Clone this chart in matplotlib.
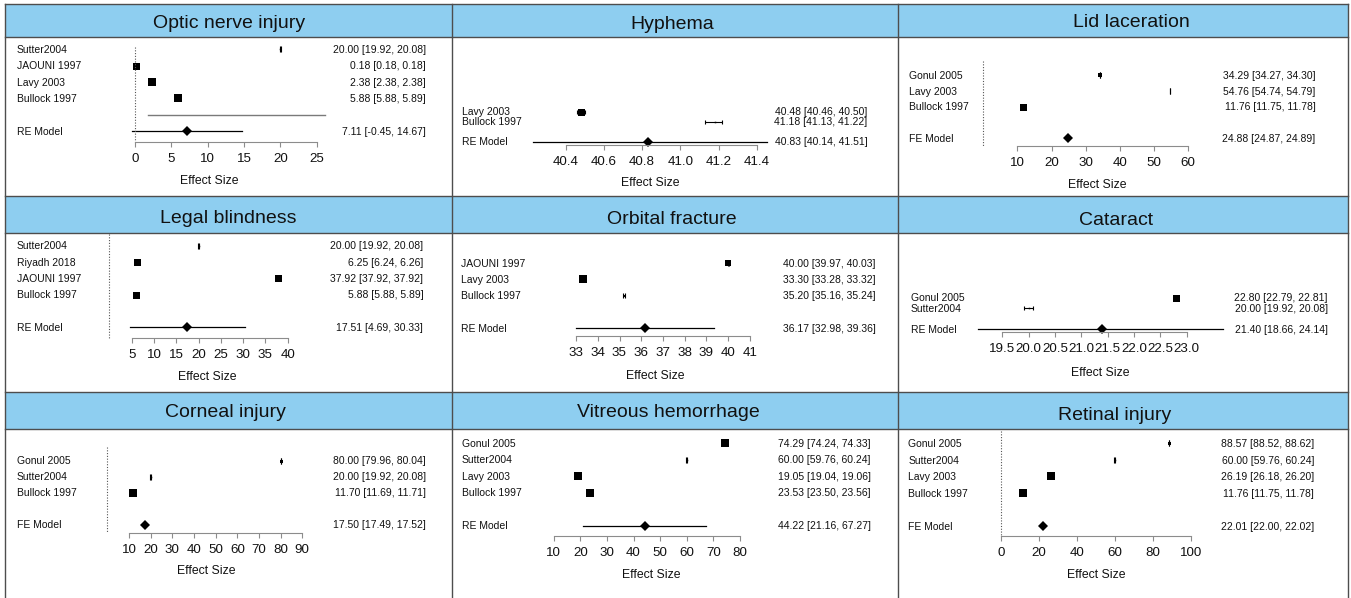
import numpy as np
import matplotlib
matplotlib.use("Agg")
import matplotlib.pyplot as plt
from matplotlib import transforms
from matplotlib.patches import Rectangle
from matplotlib.lines import Line2D

W, H, DPI = 1351, 598, 100
plt.rcParams['font.family'] = ['Liberation Sans', 'DejaVu Sans']

# ------------------------------------------------------------------ data
optic_title = "Optic nerve injury"
optic_labels = ["Sutter2004", "JAOUNI 1997", "Lavy 2003", "Bullock 1997"]
optic_est = [20.00, 0.18, 2.38, 5.88]
optic_lo = [19.92, 0.18, 2.38, 5.88]
optic_hi = [20.08, 0.18, 2.38, 5.89]
optic_model = ["RE Model", 7.11, -0.45, 14.67]
optic_pi = [1.8, 26.1]
optic_ticks = [0, 5, 10, 15, 20, 25]

hyph_title = "Hyphema"
hyph_labels = ["Lavy 2003", "Bullock 1997"]
hyph_est = [40.48, 41.18]
hyph_lo = [40.46, 41.13]
hyph_hi = [40.50, 41.22]
hyph_model = ["RE Model", 40.83, 40.14, 41.51]
hyph_ticks = [40.4, 40.6, 40.8, 41.0, 41.2, 41.4]

lid_title = "Lid laceration"
lid_labels = ["Gonul 2005", "Lavy 2003", "Bullock 1997"]
lid_est = [34.29, 54.76, 11.76]
lid_lo = [34.27, 54.74, 11.75]
lid_hi = [34.30, 54.79, 11.78]
lid_model = ["FE Model", 24.88, 24.87, 24.89]
lid_ticks = [10, 20, 30, 40, 50, 60]

legal_title = "Legal blindness"
legal_labels = ["Sutter2004", "Riyadh 2018", "JAOUNI 1997", "Bullock 1997"]
legal_est = [20.00, 6.25, 37.92, 5.88]
legal_lo = [19.92, 6.24, 37.92, 5.88]
legal_hi = [20.08, 6.26, 37.92, 5.89]
legal_model = ["RE Model", 17.51, 4.69, 30.33]
legal_ticks = [5, 10, 15, 20, 25, 30, 35, 40]

orb_title = "Orbital fracture"
orb_labels = ["JAOUNI 1997", "Lavy 2003", "Bullock 1997"]
orb_est = [40.00, 33.30, 35.20]
orb_lo = [39.97, 33.28, 35.16]
orb_hi = [40.03, 33.32, 35.24]
orb_model = ["RE Model", 36.17, 32.98, 39.36]
orb_ticks = [33, 34, 35, 36, 37, 38, 39, 40, 41]

cat_title = "Cataract"
cat_labels = ["Gonul 2005", "Sutter2004"]
cat_est = [22.80, 20.00]
cat_lo = [22.79, 19.92]
cat_hi = [22.81, 20.08]
cat_model = ["RE Model", 21.40, 18.66, 24.14]
cat_ticks = [19.5, 20.0, 20.5, 21.0, 21.5, 22.0, 22.5, 23.0]

corn_title = "Corneal injury"
corn_labels = ["Gonul 2005", "Sutter2004", "Bullock 1997"]
corn_est = [80.00, 20.00, 11.70]
corn_lo = [79.96, 19.92, 11.69]
corn_hi = [80.04, 20.08, 11.71]
corn_model = ["FE Model", 17.50, 17.49, 17.52]
corn_ticks = [10, 20, 30, 40, 50, 60, 70, 80, 90]

vit_title = "Vitreous hemorrhage"
vit_labels = ["Gonul 2005", "Sutter2004", "Lavy 2003", "Bullock 1997"]
vit_est = [74.29, 60.00, 19.05, 23.53]
vit_lo = [74.24, 59.76, 19.04, 23.50]
vit_hi = [74.33, 60.24, 19.06, 23.56]
vit_model = ["RE Model", 44.22, 21.16, 67.27]
vit_ticks = [10, 20, 30, 40, 50, 60, 70, 80]

ret_title = "Retinal injury"
ret_labels = ["Gonul 2005", "Sutter2004", "Lavy 2003", "Bullock 1997"]
ret_est = [88.57, 60.00, 26.19, 11.76]
ret_lo = [88.52, 59.76, 26.18, 11.75]
ret_hi = [88.62, 60.24, 26.20, 11.78]
ret_model = ["FE Model", 22.01, 22.00, 22.02]
ret_ticks = [0, 20, 40, 60, 80, 100]

# ------------------------------------------------------------------ layout (pixels)
panels = [
    dict(title=optic_title, labels=optic_labels, est=optic_est, lo=optic_lo, hi=optic_hi,
         model=optic_model, ticks=optic_ticks, fmt="%d", pi=optic_pi,
         x0=135, x1=316.7, axis_y=141.7, y0=49.3, dy=16.4, lab_x=17, est_x=426,
         xlab=(209, 180), tpos=(229, 28.3), sizes=[1.5, 7, 7.5, 8], cap=6,
         ref_top=-0.15, clip=None),
    dict(title=hyph_title, labels=hyph_labels, est=hyph_est, lo=hyph_lo, hi=hyph_hi,
         model=hyph_model, ticks=hyph_ticks, fmt="%.1f", pi=None,
         x0=565.7, x1=756.7, axis_y=145, y0=111.7, dy=10, lab_x=461.7, est_x=867.7,
         xlab=(650, 181.7), tpos=(672, 29.3), sizes=[7, 1.5], cap=4,
         ref_top=None, clip=(40.23, 41.455)),
    dict(title=lid_title, labels=lid_labels, est=lid_est, lo=lid_lo, hi=lid_hi,
         model=lid_model, ticks=lid_ticks, fmt="%d", pi=None,
         x0=1017.3, x1=1188.3, axis_y=145.7, y0=75.3, dy=15.7, lab_x=909, est_x=1315.7,
         xlab=(1097.3, 183.3), tpos=(1131, 26.7), sizes=[3.5, 1, 7], cap=6,
         ref_top=-0.9, clip=None),
    dict(title=legal_title, labels=legal_labels, est=legal_est, lo=legal_lo, hi=legal_hi,
         model=legal_model, ticks=legal_ticks, fmt="%d", pi=None,
         x0=131.7, x1=287.7, axis_y=337.7, y0=245.7, dy=16.3, lab_x=17, est_x=423.3,
         xlab=(207, 375), tpos=(228.7, 223.3), sizes=[1.5, 7, 7, 7], cap=6,
         ref_top=-0.72, clip=None),
    dict(title=orb_title, labels=orb_labels, est=orb_est, lo=orb_lo, hi=orb_hi,
         model=orb_model, ticks=orb_ticks, fmt="%d", pi=None,
         x0=576, x1=750, axis_y=336, y0=263.3, dy=16.2, lab_x=461, est_x=875.7,
         xlab=(655, 374.3), tpos=(671.8, 224), sizes=[6.5, 7.5, 2], cap=5,
         ref_top=None, clip=None),
    dict(title=cat_title, labels=cat_labels, est=cat_est, lo=cat_lo, hi=cat_hi,
         model=cat_model, ticks=cat_ticks, fmt="%.1f", pi=None,
         x0=1002.3, x1=1186.7, axis_y=332, y0=297.7, dy=10.5, lab_x=910.7, est_x=1327.7,
         xlab=(1100, 371), tpos=(1115.7, 225), sizes=[7, 1.5], cap=4,
         ref_top=None, clip=(19.04, 23.68)),
    dict(title=corn_title, labels=corn_labels, est=corn_est, lo=corn_lo, hi=corn_hi,
         model=corn_model, ticks=corn_ticks, fmt="%d", pi=None,
         x0=129, x1=302.3, axis_y=532.7, y0=460.7, dy=16, lab_x=17, est_x=426,
         xlab=(206.7, 570), tpos=(225.3, 416.7), sizes=[3, 1.5, 7.5], cap=6,
         ref_top=-0.875, clip=None),
    dict(title=vit_title, labels=vit_labels, est=vit_est, lo=vit_lo, hi=vit_hi,
         model=vit_model, ticks=vit_ticks, fmt="%d", pi=None,
         x0=553.7, x1=740, axis_y=535.7, y0=443, dy=16.55, lab_x=461.7, est_x=870.7,
         xlab=(651, 573.3), tpos=(668, 416.7), sizes=[7.5, 1.5, 7.5, 7.5], cap=6,
         ref_top=None, clip=None),
    dict(title=ret_title, labels=ret_labels, est=ret_est, lo=ret_lo, hi=ret_hi,
         model=ret_model, ticks=ret_ticks, fmt="%d", pi=None,
         x0=1000.7, x1=1191, axis_y=535.7, y0=443.3, dy=16.55, lab_x=908.3, est_x=1314.3,
         xlab=(1096, 573.3), tpos=(1114.7, 420), sizes=[3, 1.5, 8, 7.5], cap=6,
         ref_top=-0.75, clip=None),
]

col_edges = [5.5, 451.5, 898, 1348]
row_tops = [4, 196, 391.5]
head_bots = [37, 233, 429]
HEAD_COLOR = "#8ECEF0"
LINE_COLOR = "#4d4d4d"
AX_GRAY = "#8c8c8c"
FS_LAB, FS_TICK, FS_XLAB, FS_TITLE = 7.5, 9.6, 8.8, 14

fig = plt.figure(figsize=(W / DPI, H / DPI), dpi=DPI)
fig.patch.set_facecolor("white")


def fx(px):
    return px / W


def fy(py):
    return 1 - py / H


# header bars
for r in range(3):
    fig.add_artist(Rectangle((fx(col_edges[0]), fy(head_bots[r])),
                             fx(col_edges[-1]) - fx(col_edges[0]),
                             fy(row_tops[r]) - fy(head_bots[r]),
                             transform=fig.transFigure, facecolor=HEAD_COLOR,
                             edgecolor="none", zorder=1))
    for yy in (row_tops[r], head_bots[r]):
        fig.add_artist(Line2D([fx(col_edges[0]), fx(col_edges[-1])], [fy(yy), fy(yy)],
                              transform=fig.transFigure, color=LINE_COLOR, lw=1.0, zorder=2))
for xx in col_edges:
    fig.add_artist(Line2D([fx(xx), fx(xx)], [fy(row_tops[0]), 0],
                          transform=fig.transFigure, color=LINE_COLOR, lw=1.0, zorder=2))


def draw_panel(P):
    n = len(P["labels"])
    dy = P["dy"]
    bottom_k = (P["axis_y"] - P["y0"]) / dy
    top_px = P["y0"] - dy
    ax = fig.add_axes([fx(P["x0"]), fy(P["axis_y"]), (P["x1"] - P["x0"]) / W,
                       (P["axis_y"] - top_px) / H])
    ax.set_xlim(P["ticks"][0], P["ticks"][-1])
    ax.set_ylim(bottom_k, -1)
    ax.patch.set_visible(False)
    for s in ("top", "right", "left"):
        ax.spines[s].set_visible(False)
    ax.spines["bottom"].set_color(AX_GRAY)
    ax.spines["bottom"].set_linewidth(0.8)
    ax.set_yticks([])
    ax.set_xticks(P["ticks"])
    ax.set_xticklabels([P["fmt"] % t for t in P["ticks"]])
    ax.tick_params(axis="x", length=3.8, width=0.8, color=AX_GRAY, pad=4.0,
                   labelsize=FS_TICK, labelcolor="#111111")

    cap_half = P["cap"] / 2.0 / dy
    lab_tr = transforms.offset_copy(
        transforms.blended_transform_factory(fig.transFigure, ax.transData),
        fig=fig, y=-0.358 * FS_LAB, units="points")

    rows = list(range(n))
    for k, lab, e, lo, hi, sz in zip(rows, P["labels"], P["est"], P["lo"], P["hi"], P["sizes"]):
        ax.plot([lo, hi], [k, k], color="k", lw=0.8, clip_on=False, solid_capstyle="butt")
        for v in (lo, hi):
            ax.plot([v, v], [k - cap_half, k + cap_half], color="k", lw=0.8,
                    clip_on=False, solid_capstyle="butt")
        ax.plot([e], [k], marker="s", ms=sz * 0.72, color="k", mew=0, clip_on=False)
        ax.text(fx(P["lab_x"]), k, lab, transform=lab_tr, fontsize=FS_LAB,
                ha="left", va="baseline", color="#111111")
        ax.text(fx(P["est_x"]), k, "%.2f [%.2f, %.2f]" % (e, lo, hi), transform=lab_tr,
                fontsize=FS_LAB, ha="right", va="baseline", color="#111111")

    if P["pi"] is not None:
        ax.plot(P["pi"], [n, n], color="#7a7a7a", lw=1.0, clip_on=False)

    mk = n + 1
    mname, me, mlo, mhi = P["model"]
    dlo, dhi = mlo, mhi
    if P["clip"] is not None:
        dlo, dhi = max(mlo, P["clip"][0]), min(mhi, P["clip"][1])
    ax.plot([dlo, dhi], [mk, mk], color="k", lw=0.9, clip_on=False)
    ax.plot([me], [mk], marker="D", ms=4.8, color="k", mew=0, clip_on=False)
    ax.text(fx(P["lab_x"]), mk, mname, transform=lab_tr, fontsize=FS_LAB,
            ha="left", va="baseline", color="#111111")
    ax.text(fx(P["est_x"]), mk, "%.2f [%.2f, %.2f]" % (me, mlo, mhi), transform=lab_tr,
            fontsize=FS_LAB, ha="right", va="baseline", color="#111111")

    if P["ref_top"] is not None:
        ax.plot([0, 0], [P["ref_top"], bottom_k], color="#555555", lw=0.8,
                ls=(0, (1, 1.5)), clip_on=False)

    fig.text(fx(P["xlab"][0]), fy(P["xlab"][1]), "Effect Size", fontsize=FS_XLAB,
             ha="center", va="center_baseline", color="#111111")
    fig.text(fx(P["tpos"][0]), fy(P["tpos"][1]), P["title"], fontsize=FS_TITLE,
             ha="center", va="baseline", color="#111111", zorder=5)


for P in panels:
    draw_panel(P)

fig.savefig("out.png", dpi=DPI, facecolor="white")
